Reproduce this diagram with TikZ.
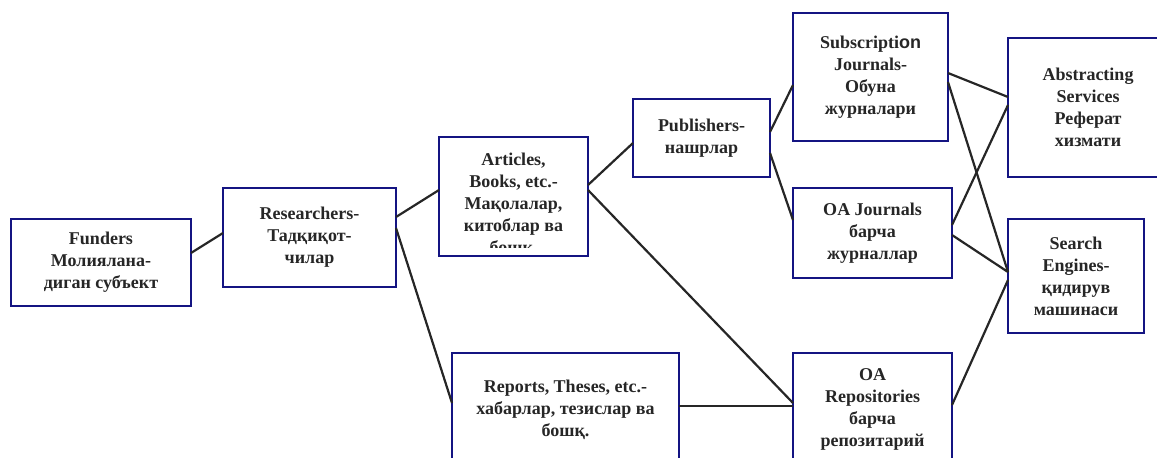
\documentclass[tikz,border=0pt]{standalone}
\usepackage{fontspec}
\setmainfont{Liberation Serif}
\newfontfamily\sansb{Liberation Sans}
\definecolor{boxblue}{RGB}{20,20,130}

\begin{document}
\begin{tikzpicture}[x=0.5pt, y=-0.5pt,
  box/.style={draw=boxblue, line width=1pt, fill=white, inner sep=0pt, outer sep=0pt,
    align=center, font=\fontsize{9}{11}\selectfont\bfseries, text=black!85},
  link/.style={draw=black!85, line width=1.1pt}]
\clip (0,0) rectangle (1157,457);
\fill[white] (0,0) rectangle (1157,457);

\node[box, minimum width=90pt, minimum height=43.5pt] (funders) at (101,262.5)
  {Funders\\Молиялана-\\диган субъект};
\node[box, minimum width=86.5pt, minimum height=49.5pt] (researchers) at (309.5,237.5)
  {Researchers-\\Тадқиқот-\\чилар};
\node[box, minimum width=74.5pt, minimum height=59.5pt] (articles) at (513.5,196.5) {};
\begin{scope}
\clip (439,137) rectangle (588,247);
\node[box, draw=none, fill=none] at (513.5,204.5)
  {Articles,\\Books, etc.-\\Мақолалар,\\китоблар ва\\бошқ.};
\end{scope}
\node[box, minimum width=68.5pt, minimum height=39pt] (publishers) at (701.5,138)
  {Publishers-\\нашрлар};
\node[box, minimum width=77.5pt, minimum height=64pt] (subscr) at (870.5,77)
  {Subscripti{\sansb on}\\Journals-\\Обуна\\журналари};
\node[box, minimum width=79.5pt, minimum height=45pt] (oajournals) at (872.5,233)
  {OA Journals\\барча\\журналлар};
\node[box, minimum width=79.5pt, minimum height=56.5pt] (oarepos) at (872.5,409.5)
  {OA\\Repositories\\барча\\репозитарий};
\node[box, minimum width=113.5pt, minimum height=56.5pt] (reports) at (565.5,409.5)
  {Reports, Theses, etc.-\\хабарлар, тезислар ва\\бошқ.};
\node[box, minimum width=80pt, minimum height=69.5pt] (abstract) at (1088,107.5)
  {Abstracting\\Services\\Реферат\\хизмати};
\node[box, minimum width=68pt, minimum height=57pt] (search) at (1076,276)
  {Search\\Engines-\\қидирув\\машинаси};

% links
\path[link] ([yshift=4.75pt]funders.east) -- ([yshift=2.25pt]researchers.west);
\path[link] ([yshift=10.25pt]researchers.east) -- ([yshift=3.25pt]articles.west);
\path[link] ([yshift=4.75pt]researchers.east) -- ([yshift=3.25pt]reports.west);
\path[link] ([yshift=5.75pt]articles.east) -- ([yshift=-2.5pt]publishers.west);
\path[link] ([yshift=3.25pt]articles.east) -- ([yshift=3.25pt]oarepos.west);
\path[link] ([yshift=3pt]publishers.east) -- ([yshift=-4pt]subscr.west);
\path[link] ([yshift=-7.5pt]publishers.east) -- ([yshift=6.5pt]oajournals.west);
\path[link] ([yshift=1.75pt]reports.east) -- ([yshift=1.75pt]oarepos.west);
\path[link] ([yshift=2pt]subscr.east) -- ([yshift=5.25pt]abstract.west);
\path[link] ([yshift=-2.5pt]subscr.east) -- ([yshift=2pt]search.west);
\path[link] ([yshift=4pt]oajournals.east) -- ([yshift=1.25pt]abstract.west);
\path[link] ([yshift=-1pt]oajournals.east) -- ([yshift=2pt]search.west);
\path[link] ([yshift=2.25pt]oarepos.east) -- ([yshift=-2pt]search.west);
\end{tikzpicture}
\end{document}
